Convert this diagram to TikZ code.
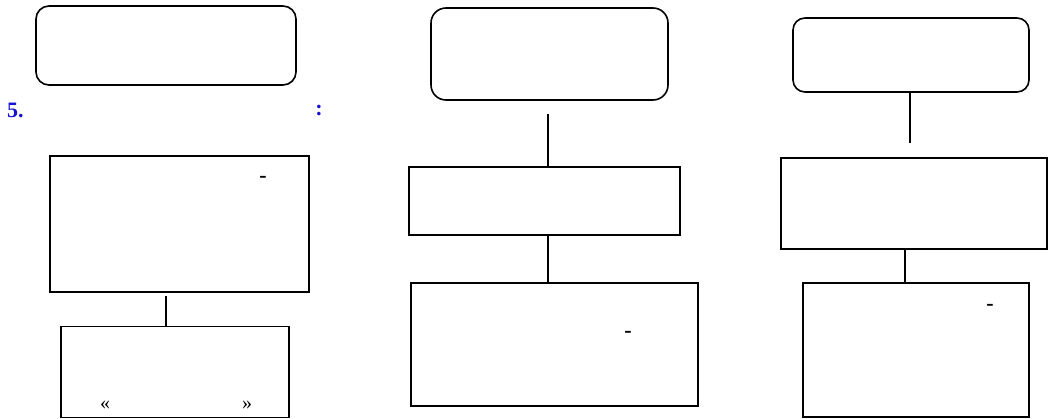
\documentclass[tikz,border=0pt]{standalone}
\usepackage{fontspec}
\setmainfont{Liberation Serif}
\definecolor{numblue}{RGB}{20,20,210}
\begin{document}
\begin{tikzpicture}[x=1pt,y=-1pt,
  box/.style={draw=black,line width=1.6pt,inner sep=0pt,fill=white},
  rbox/.style={box,rounded corners=13pt},
  conn/.style={draw=black,line width=1.6pt},
  glyph/.style={inner sep=0pt,font=\bfseries\fontsize{22}{24}\selectfont},
  quote/.style={inner sep=0pt,font=\fontsize{20}{22}\selectfont},
  lbl/.style={inner sep=0pt,text=numblue,font=\bfseries\fontsize{22}{24}\selectfont}]
\useasboundingbox (0,0) rectangle (1048,418);
% left column
\node[rbox,minimum width=260pt,minimum height=79pt] (L1) at (166,45.5) {};
\node[lbl,anchor=west] (num) at (7,110) {5.};
\node[lbl] (colon) at (319,110) {:};
\node[box,minimum width=259pt,minimum height=136pt] (L2) at (179.5,224) {};
\node[box,minimum width=228pt,minimum height=91pt] (L3) at (175,372) {};
\node[glyph] (Ld) at (263,179) {-};
\node[quote] (Lq1) at (105,405) {«};
\node[quote] (Lq2) at (247,405) {»};
\draw[conn] (L2.south -| L1.south) ++(0,3) coordinate (Lc) -- (L3.north -| Lc);
% middle column
\node[rbox,rounded corners=15pt,minimum width=237pt,minimum height=92pt] (M1) at (549.5,54) {};
\node[box,minimum width=271pt,minimum height=68pt] (M2) at (544.5,201) {};
\node[box,minimum width=287pt,minimum height=123pt] (M3) at (554.5,344.5) {};
\node[glyph] (Md) at (628,334) {-};
\coordinate (Mc) at (548,114);
\draw[conn] (Mc) -- (M2.north -| Mc);
\draw[conn] (M2.south -| Mc) -- (M3.north -| Mc);
% right column
\node[rbox,rounded corners=12pt,minimum width=236pt,minimum height=74pt] (R1) at (911,55) {};
\node[box,minimum width=266pt,minimum height=91pt] (R2) at (914,203.5) {};
\node[box,minimum width=226pt,minimum height=134pt] (R3) at (916,350) {};
\node[glyph] (Rd) at (990,307) {-};
\coordinate (Rc) at (910,143);
\draw[conn] (R1.south -| Rc) -- (Rc);
\coordinate (Rc2) at (905,249);
\draw[conn] (R2.south -| Rc2) -- (R3.north -| Rc2);
\end{tikzpicture}
\end{document}
